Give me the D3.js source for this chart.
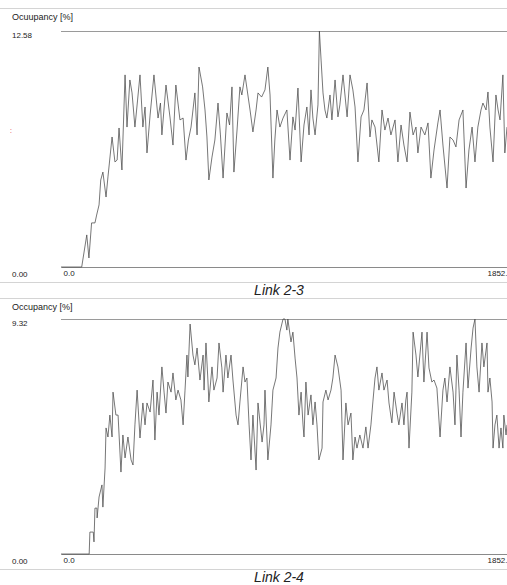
<!DOCTYPE html>
<html>
<head>
<meta charset="utf-8">
<script src="https://cdn.jsdelivr.net/npm/d3@7"></script>
<style>
  body { margin: 0; background: #fff; }
  text { font-family: "Liberation Sans", Arial, sans-serif; fill: #222; }
</style>
</head>
<body>
<div id="chart"></div>
<script>
// Base chart space
var width = 507, height = 585;

// Data: time [s] and occupancy [%]
var link23Time = [0,86,107,116,127,141,148,158,165,174,187,195,212,224,233,241,253,266,274,286,
  295,307,318,328,340,349,357,370,386,403,413,419,436,453,465,477,494,507,519,529,
  540,556,565,573,588,598,606,614,627,639,652,662,673,689,700,710,718,731,743,751,
  764,785,797,810,818,833,847,859,868,880,888,897,909,922,938,951,963,972,984,997,
  1009,1021,1030,1038,1046,1055,1067,1073,1080,1088,1096,1104,1117,1125,1138,1150,1158,1171,1188,1200,
  1212,1221,1233,1246,1258,1271,1283,1291,1304,1320,1333,1345,1358,1370,1387,1399,1412,1424,1437,1449,
  1462,1474,1482,1495,1511,1524,1536,1549,1565,1574,1586,1603,1615,1628,1640,1653,1669,1682,1694,1707,
  1719,1731,1744,1752,1765,1773,1781,1794,1806,1815,1823,1835,1843,1852];
var link23Occ = [0,0,1.71,0.48,2.35,2.35,2.77,3.31,4.64,5.06,3.73,4.80,6.93,5.60,5.70,7.41,5.17,10.24,7.46,9.97,
  9.28,7.46,8.90,10.24,7.46,8.53,6.08,8.10,10.24,7.94,8.74,7.04,9.70,7.94,6.50,9.70,7.84,7.94,5.70,6.77,
  7.46,9.28,7.04,10.66,9.60,8.37,6.93,4.64,5.86,6.77,8.74,7.04,4.74,8.21,7.57,9.60,5.06,7.30,9.60,9.17,
  10.24,8.37,7.20,8.37,9.28,9.06,9.44,10.66,9.17,4.74,6.77,8.37,7.46,7.94,8.37,5.70,8.00,7.30,9.54,5.60,
  7.57,8.53,7.04,9.44,7.94,7.04,8.64,12.58,11.03,9.28,8.37,7.94,9.17,7.84,9.97,8.00,8.64,10.24,8.00,10.24,
  9.44,8.53,5.60,8.00,8.37,9.81,6.93,7.84,7.46,5.60,8.37,7.30,7.94,7.04,7.84,5.60,7.57,6.50,5.60,8.26,
  7.04,7.46,6.08,7.46,7.04,7.68,4.74,6.24,7.68,8.37,6.50,4.21,6.93,6.77,6.40,7.84,8.37,4.21,6.24,7.46,
  5.60,7.46,8.37,8.74,8.37,9.33,7.46,5.60,9.17,8.37,7.84,10.24,6.08,7.46];

var link24Time = [0,117,120,134,137,141,149,150,158,170,174,183,187,195,203,212,216,228,237,249,
  257,266,278,291,299,307,316,328,340,349,357,370,382,390,399,407,419,428,436,444,
  457,465,477,486,498,507,515,523,527,536,548,556,565,577,590,594,602,610,614,627,
  635,648,656,668,673,685,693,706,714,727,735,743,756,764,772,781,789,797,810,818,
  835,843,847,859,872,880,893,901,909,922,930,938,942,955,963,972,980,988,997,1005,
  1009,1017,1026,1038,1046,1055,1063,1071,1084,1088,1100,1109,1121,1129,1138,1150,1163,1171,1183,1192,
  1204,1212,1221,1229,1241,1254,1266,1275,1287,1295,1304,1312,1320,1333,1341,1354,1362,1374,1383,1395,
  1403,1416,1424,1432,1437,1445,1457,1462,1474,1482,1499,1507,1520,1528,1540,1549,1561,1574,1586,1594,
  1603,1615,1628,1636,1644,1653,1661,1669,1682,1690,1703,1711,1719,1727,1736,1748,1756,1769,1773,1781,
  1790,1794,1802,1810,1819,1827,1835,1839,1848,1852];
var link24Occ = [0,0,0.87,0.87,0.48,1.82,1.82,1.43,2.26,2.74,1.86,3.41,5.00,4.64,5.51,4.64,6.42,5.51,5.51,3.25,
  4.72,3.81,4.64,3.73,3.53,5.12,6.50,4.60,5.99,5.12,5.99,5.63,6.90,4.52,6.42,5.51,7.42,6.42,5.59,6.82,
  6.42,7.18,6.11,6.50,6.11,5.12,6.50,7.89,7.02,9.12,7.89,7.50,8.17,6.90,7.89,6.50,8.37,6.90,6.03,7.42,
  6.50,6.98,8.37,7.38,6.42,7.89,6.98,7.89,6.90,5.51,5.12,6.03,7.42,6.82,6.98,5.12,3.73,5.51,3.33,5.99,
  4.44,5.12,6.50,3.73,5.12,6.50,6.98,8.17,8.80,9.32,9.32,8.88,9.32,8.41,8.80,7.77,6.98,5.51,6.42,5.12,
  4.64,6.82,5.51,6.31,5.12,6.03,5.12,3.73,4.20,6.03,6.50,6.11,6.50,6.98,7.89,7.42,6.50,3.73,5.99,5.12,
  5.59,3.73,4.64,4.20,4.72,4.20,5.04,4.20,5.12,6.03,6.98,7.42,6.50,7.18,6.50,6.90,5.99,5.20,6.42,5.59,
  5.12,5.99,5.12,6.11,6.42,4.20,6.42,8.80,7.89,7.02,8.80,6.82,8.80,7.38,6.82,6.90,6.58,4.64,6.50,6.98,
  6.03,7.42,6.42,5.12,7.89,6.50,4.64,6.42,8.37,6.58,8.17,8.96,9.32,7.42,6.42,8.37,7.42,8.37,6.42,6.98,
  6.03,4.20,5.12,5.51,4.20,5.00,4.20,5.51,4.72,5.12];

var xDomain = [0, 1852];
var panels = [
  {title: 'Link 2-3', yTitle: 'Ocuupancy [%]', time: link23Time, occ: link23Occ, max: 12.58, sep: 8,  top: 31,  bottom: 267},
  {title: 'Link 2-4', yTitle: 'Occupancy [%]', time: link24Time, occ: link24Occ, max: 9.32,  sep: 298, top: 319, bottom: 554}
];

var svg = d3.select('#chart').append('svg')
    .attr('width', width)
    .attr('height', height);

var x = d3.scaleLinear().domain(xDomain).range([61, 507]);

panels.forEach(function(p) {
    var g = svg.append('g');
    var y = d3.scaleLinear().domain([0, p.max]).range([p.bottom, p.top]);

    // light separator line above the panel
    g.append('line')
        .attr('x1', 0).attr('x2', width)
        .attr('y1', p.sep + 0.5).attr('y2', p.sep + 0.5)
        .style('stroke', '#d4d4d4');

    g.append('text')
        .attr('x', 12).attr('y', p.sep + 12)
        .style('font-size', '9px')
        .text(p.yTitle);

    // top frame line at the max value
    g.append('line')
        .attr('x1', 61).attr('x2', width)
        .attr('y1', y(p.max) + 0.5).attr('y2', y(p.max) + 0.5)
        .style('stroke', '#9a9a9a');

    // Y axis: only the two end labels, placed at the left edge
    var yAxis = g.append('g')
        .attr('transform', 'translate(61,0)')
        .call(d3.axisLeft(y).tickValues([0, p.max]).tickSize(0).tickFormat(d3.format('.2f')));
    yAxis.select('.domain').remove();
    yAxis.selectAll('text')
        .attr('x', -49)
        .attr('dy', null)
        .attr('y', function(d) { return d === 0 ? 9 : 6; })
        .style('text-anchor', 'start')
        .style('font-family', '"Liberation Sans", Arial, sans-serif')
        .style('font-size', '8px')
        .style('fill', '#222');

    // X axis: start and end labels (the end one runs off the edge, as in the original)
    var xAxis = g.append('g')
        .attr('transform', 'translate(0,' + p.bottom + ')')
        .call(d3.axisBottom(x).tickValues(xDomain).tickSize(0).tickFormat(d3.format('.1f')));
    xAxis.select('.domain').style('stroke', '#8a8a8a');
    xAxis.selectAll('text')
        .attr('y', 9)
        .attr('dy', null)
        .attr('dx', function(d) { return d === 0 ? 2 : -20; })
        .style('text-anchor', 'start')
        .style('font-family', '"Liberation Sans", Arial, sans-serif')
        .style('font-size', '8px')
        .style('fill', '#222');

    // occupancy line
    var line = d3.line()
        .x(function(d, i) { return x(p.time[i]); })
        .y(function(d) { return y(d); });
    g.append('path')
        .datum(p.occ)
        .attr('d', line)
        .style('fill', 'none')
        .style('stroke', '#4a4a4a')
        .style('stroke-width', 0.75);

    // caption between separators
    g.append('line')
        .attr('x1', 0).attr('x2', width)
        .attr('y1', p.bottom + 15.5).attr('y2', p.bottom + 15.5)
        .style('stroke', '#d4d4d4');
    g.append('text')
        .attr('x', 279).attr('y', p.bottom + 28)
        .style('text-anchor', 'middle')
        .style('font-style', 'italic')
        .style('font-size', '14px')
        .text(p.title);
});

// small red marker left of the first panel
svg.append('text')
    .attr('x', 10).attr('y', 133)
    .style('font-size', '7px')
    .style('fill', '#e02020')
    .text(':');
</script>
</body>
</html>
